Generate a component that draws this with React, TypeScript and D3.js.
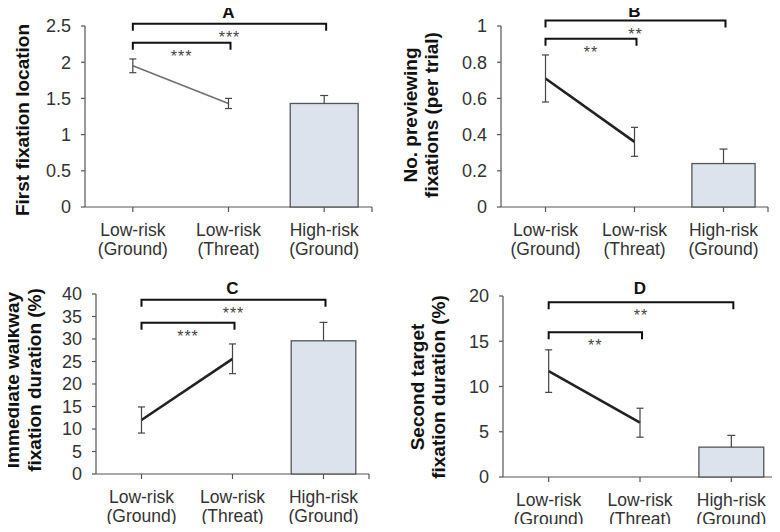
import React, { useRef, useEffect } from 'react';
import * as d3 from 'd3';

// categories (two-line labels)
const categoryTop = ['Low-risk', 'Low-risk', 'High-risk'];
const categoryBottom = ['(Ground)', '(Threat)', '(Ground)'];

// panel A: first fixation location
const meanA = [1.95, 1.43, 1.43];
const errA = [0.095, 0.07, 0.11];
const ticksA = [0, 0.5, 1, 1.5, 2, 2.5];

// panel B: no. previewing fixations
const meanB = [0.71, 0.36, 0.24];
const errB = [0.13, 0.08, 0.08];
const ticksB = [0, 0.2, 0.4, 0.6, 0.8, 1];

// panel C: immediate walkway fixation duration
const meanC = [12, 25.6, 29.6];
const errC = [2.9, 3.3, 4.1];
const ticksC = [0, 5, 10, 15, 20, 25, 30, 35, 40];

// panel D: second target fixation duration
const meanD = [11.7, 6, 3.3];
const errD = [2.35, 1.6, 1.3];
const ticksD = [0, 5, 10, 15, 20];

const starsA = ['***', '***'];
const starsB = ['**', '**'];
const starsC = ['***', '***'];
const starsD = ['**', '**'];

const FONT = '"Liberation Sans", Arial, sans-serif';

const panels = [
  { letter: 'A', mean: meanA, err: errA, ticks: ticksA, stars: starsA, label: ['First fixation location'],
    x0: 85, x1: 372, top: 26, bottom: 207, labelX: [29], labelY: 120, bracket: [2.53, 2.27], letterY: 18,
    lineColor: '#707070', lineWidth: 1.6 },
  { letter: 'B', mean: meanB, err: errB, ticks: ticksB, stars: starsB, label: ['No. previewing', 'fixations (per trial)'],
    x0: 501, x1: 768, top: 26, bottom: 207, labelX: [417, 438], labelY: 115, bracket: [1.03, 0.93], letterY: 17,
    lineColor: '#222', lineWidth: 2.6 },
  { letter: 'C', mean: meanC, err: errC, ticks: ticksC, stars: starsC, label: ['Immediate walkway', 'fixation duration (%)'],
    x0: 96, x1: 369, top: 294, bottom: 474, labelX: [19, 41], labelY: 380, bracket: [38.7, 33.6], letterY: 294,
    lineColor: '#222', lineWidth: 2.6 },
  { letter: 'D', mean: meanD, err: errD, ticks: ticksD, stars: starsD, label: ['Second target', 'fixation duration (%)'],
    x0: 503, x1: 777, top: 296, bottom: 477, labelX: [424, 445], labelY: 387, bracket: [19.3, 16.0], letterY: 294,
    lineColor: '#222', lineWidth: 2.6 },
];

export default function App() {
  const svgRef = useRef<SVGSVGElement>(null);

  useEffect(() => {
    const svg = d3.select(svgRef.current);
    svg.selectAll('*').remove();

    panels.forEach(p => {
      const g = svg.append('g');
      const ticks = p.ticks;
      const y = d3.scaleLinear().domain([0, ticks[ticks.length - 1]]).range([p.bottom, p.top]);
      const x = d3.scaleBand<number>().domain([0, 1, 2]).range([p.x0, p.x1]);
      const cx = (i: number) => (x(i) as number) + x.bandwidth() / 2;

      // y axis
      g.append('line').attr('x1', p.x0).attr('x2', p.x0).attr('y1', p.top).attr('y2', p.bottom)
        .attr('stroke', '#555').attr('stroke-width', 1.2);
      g.selectAll('.yt').data(ticks).join('line')
        .attr('x1', p.x0 - 4).attr('x2', p.x0).attr('y1', d => y(d)).attr('y2', d => y(d))
        .attr('stroke', '#555').attr('stroke-width', 1.2);
      g.selectAll('.yl').data(ticks).join('text')
        .attr('x', p.x0 - 14).attr('y', d => y(d)).attr('dy', '0.36em')
        .attr('text-anchor', 'end').style('font', `18px ${FONT}`).attr('fill', '#333')
        .text(d => String(d));

      // x axis
      g.append('line').attr('x1', p.x0).attr('x2', p.x1).attr('y1', p.bottom).attr('y2', p.bottom)
        .attr('stroke', '#555').attr('stroke-width', 1.2);
      g.selectAll('.xt').data([cx(0), cx(1), cx(2), p.x1]).join('line')
        .attr('x1', d => d).attr('x2', d => d).attr('y1', p.bottom).attr('y2', p.bottom + 5)
        .attr('stroke', '#555').attr('stroke-width', 1.2);
      const cat = g.selectAll('.cat').data([0, 1, 2]).join('text')
        .attr('text-anchor', 'middle').style('font', `17.5px ${FONT}`).attr('fill', '#333');
      cat.append('tspan').attr('x', d => cx(d)).attr('y', p.bottom + 29).text(d => categoryTop[d]);
      cat.append('tspan').attr('x', d => cx(d)).attr('y', p.bottom + 48).text(d => categoryBottom[d]);

      // bar (high-risk)
      const bw = x.bandwidth() * 0.71;
      g.append('rect').attr('x', cx(2) - bw / 2).attr('width', bw)
        .attr('y', y(p.mean[2])).attr('height', p.bottom - y(p.mean[2]))
        .attr('fill', '#dde3ec').attr('stroke', '#555').attr('stroke-width', 1.3);
      g.append('line').attr('x1', cx(2)).attr('x2', cx(2))
        .attr('y1', y(p.mean[2])).attr('y2', y(p.mean[2] + p.err[2]))
        .attr('stroke', '#444').attr('stroke-width', 1.2);
      g.append('line').attr('x1', cx(2) - 4).attr('x2', cx(2) + 4)
        .attr('y1', y(p.mean[2] + p.err[2])).attr('y2', y(p.mean[2] + p.err[2]))
        .attr('stroke', '#444').attr('stroke-width', 1.2);

      // line between low-risk conditions
      const lineGen = d3.line<number>().x(d => cx(d)).y(d => y(p.mean[d]));
      g.append('path').attr('d', lineGen([0, 1])).attr('fill', 'none')
        .attr('stroke', p.lineColor).attr('stroke-width', p.lineWidth);
      [0, 1].forEach(i => {
        const lo = y(p.mean[i] - p.err[i]);
        const hi = y(p.mean[i] + p.err[i]);
        g.append('line').attr('x1', cx(i)).attr('x2', cx(i)).attr('y1', lo).attr('y2', hi)
          .attr('stroke', '#444').attr('stroke-width', 1.2);
        [lo, hi].forEach(v => g.append('line').attr('x1', cx(i) - 3.5).attr('x2', cx(i) + 3.5)
          .attr('y1', v).attr('y2', v).attr('stroke', '#444').attr('stroke-width', 1.2));
      });

      // significance brackets
      const ends = [2, 1];
      p.bracket.forEach((bv, k) => {
        const by = y(bv);
        const xa = cx(0), xb = cx(ends[k]) + 2;
        g.append('path').attr('d', `M${xa},${by + 7}V${by}H${xb}V${by + 7}`)
          .attr('fill', 'none').attr('stroke', '#111').attr('stroke-width', 2);
        g.append('text').attr('x', (xa + xb) / 2).attr('y', by + 19)
          .attr('text-anchor', 'middle').style('font', `16px ${FONT}`)
          .style('letter-spacing', '1px').attr('fill', '#444')
          .text(p.stars[k]);
      });

      // panel letter
      g.append('text').attr('x', (cx(0) + cx(2)) / 2).attr('y', p.letterY)
        .attr('text-anchor', 'middle').style('font', `bold 17px ${FONT}`).attr('fill', '#111')
        .text(p.letter);

      // y label
      p.label.forEach((t, k) => {
        g.append('text').attr('transform', `translate(${p.labelX[k]},${p.labelY}) rotate(-90)`)
          .attr('text-anchor', 'middle').style('font', `bold 19px ${FONT}`).attr('fill', '#111')
          .text(t);
      });
    });
  }, []);

  return (
    <div style={{ margin: -8 }}>
      <svg ref={svgRef} width={780} height={532} style={{ display: 'block', background: '#fff' }} />
    </div>
  );
}
